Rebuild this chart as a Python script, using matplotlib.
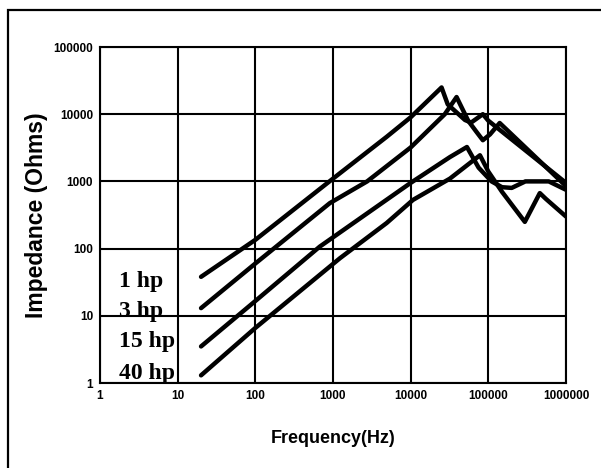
import matplotlib
matplotlib.use("Agg")
import matplotlib.pyplot as plt
from matplotlib.patches import Rectangle

# impedance vs frequency
freq_1hp = [20, 100, 900, 4900, 10000, 25000, 30000, 50000, 60000, 85000, 100000, 1000000]
imp_1hp = [38, 135, 1000, 4600, 9000, 25000, 14000, 8200, 7500, 10000, 8000, 950]

freq_3hp = [20, 100, 910, 2750, 10000, 27500, 39000, 55000, 70000, 85000, 105000, 140000, 1000000]
imp_3hp = [13, 60, 475, 1000, 3200, 10000, 18000, 8000, 5500, 4100, 5000, 7400, 850]

freq_15hp = [20, 100, 675, 10000, 32000, 53000, 75000, 110000, 150000, 200000, 300000, 600000, 1000000]
imp_15hp = [3.5, 16.6, 107, 950, 2300, 3250, 1600, 1000, 820, 800, 1000, 1000, 750]

freq_40hp = [20, 100, 1230, 4900, 10700, 32000, 78000, 100000, 150000, 295000, 460000, 550000, 1000000]
imp_40hp = [1.3, 6.6, 72, 240, 530, 1100, 2450, 1400, 700, 250, 670, 550, 300]

series_labels = ["1 hp", "3 hp", "15 hp", "40 hp"]
x_ticks = [1, 10, 100, 1000, 10000, 100000, 1000000]
y_ticks = [1, 10, 100, 1000, 10000, 100000]

fig = plt.figure(figsize=(6.01, 4.68), dpi=100)
ax = fig.add_axes([100 / 601, 1 - 383 / 468, 466 / 601, 336 / 468])

for f, z in [(freq_1hp, imp_1hp), (freq_3hp, imp_3hp),
             (freq_15hp, imp_15hp), (freq_40hp, imp_40hp)]:
    ax.plot(f, z, color="black", lw=3.2, solid_joinstyle="round",
            solid_capstyle="round")

ax.set_xscale("log")
ax.set_yscale("log")
ax.set_xlim(1, 1000000)
ax.set_ylim(1, 100000)
ax.set_xticks(x_ticks)
ax.set_xticklabels([str(t) for t in x_ticks])
ax.set_yticks(y_ticks)
ax.set_yticklabels([str(t) for t in y_ticks])
ax.minorticks_off()
ax.tick_params(length=0, pad=5)
for lab in ax.get_xticklabels() + ax.get_yticklabels():
    lab.set_fontfamily("Liberation Sans")
    lab.set_fontweight("bold")
    lab.set_fontsize(8.5)
ax.grid(True, color="black", lw=1.5)
for s in ax.spines.values():
    s.set_linewidth(1.5)

ax.set_xlabel("Frequency(Hz)", family="Liberation Sans", fontweight="bold",
              fontsize=13, labelpad=20)
ax.set_ylabel("Impedance (Ohms)", family="Liberation Sans", fontweight="bold",
              fontsize=16.5, labelpad=4)

# labels for the curves, stacked at the left
label_y = [281, 312, 342, 374]
for lab, py in zip(series_labels, label_y):
    fig.text(119 / 601, 1 - py / 468, lab, family="Liberation Serif",
             fontweight="bold", fontsize=17, va="center", ha="left")

# outer frame (only left and top edges show in the scan)
fig.patches.append(Rectangle((8 / 601, -0.5), 2, 0.5 + 1 - 10 / 468,
                             transform=fig.transFigure, fill=False,
                             lw=1.6, ec="black"))

fig.savefig("out.png", dpi=100)
